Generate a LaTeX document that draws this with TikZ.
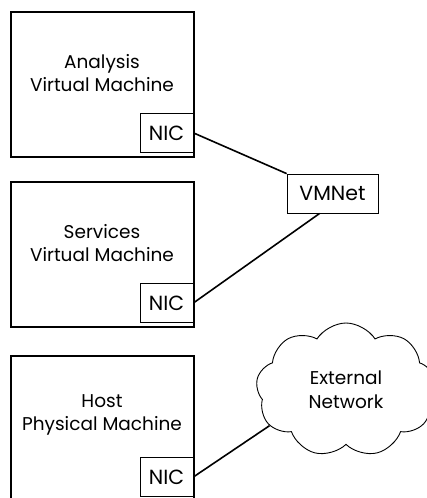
\documentclass[tikz,border=0pt]{standalone}
\usepackage{fontspec}
\setmainfont{Poppins}
\usetikzlibrary{shapes.symbols,calc}
\begin{document}
\begin{tikzpicture}[x=1pt,y=-1pt,
  machine/.style={draw,line width=1.8pt},
  nicbox/.style={draw,line width=0.8pt,inner sep=0pt,minimum width=53pt,minimum height=39pt,font=\fontsize{20.5}{24}\selectfont},
  label/.style={align=center,font=\fontsize{18.5}{23}\selectfont},
  wire/.style={line width=1.6pt},
  netcloud/.style={cloud,draw,line width=0.9pt,cloud puffs=9,cloud puff arc=115,aspect=1.4,minimum width=180pt,minimum height=134pt,align=center,font=\fontsize{18.5}{24}\selectfont}]
\useasboundingbox (0,0) rectangle (427,498);
% machines
\draw[machine] (11,12) rectangle (194,157);
\draw[machine] (11,182) rectangle (194,327);
\draw[machine] (11,356) rectangle (194,520);
\node[label] (l1) at (102,73) {Analysis\\Virtual Machine};
\node[label] (l2) at (102,243) {Services\\Virtual Machine};
\node[label] (l3) at (102,415) {Host\\Physical Machine};
% NICs
\node[nicbox,anchor=north east] (nic1) at (193.5,113) {NIC};
\node[nicbox,anchor=north east] (nic2) at (193.5,283) {NIC};
\node[nicbox,anchor=north east] (nic3) at (193.5,457) {NIC};
% VMNet
\node[draw,line width=0.8pt,minimum width=91pt,minimum height=39pt,inner sep=0pt,font=\fontsize{20.5}{24}\selectfont] (vmnet) at (332.5,193.5) {VMNet};
% cloud
\node[netcloud] (ext) at (346,390) {External\\Network};
% wires
\draw[wire] (nic1.east) -- (vmnet.north west);
\draw[wire] ($(vmnet.south west)!0.36!(vmnet.south east)$) -- (nic2.east);
\draw[wire] (nic3.east) -- (ext.205);
\end{tikzpicture}
\end{document}
